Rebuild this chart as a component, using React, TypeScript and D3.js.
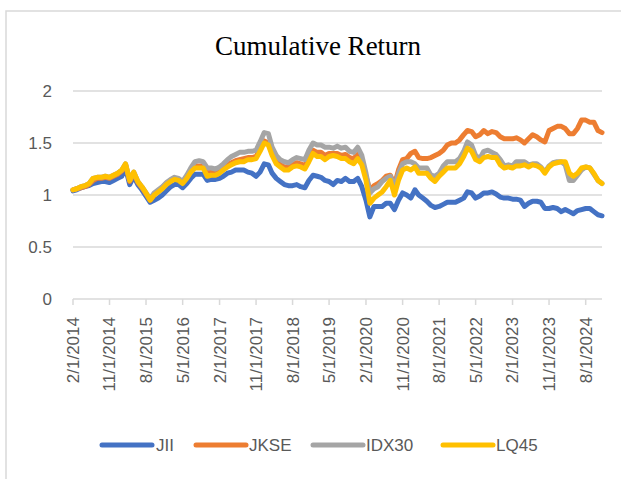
import React from "react";
import * as d3 from "d3";

// monthly observations, Feb 2014 .. Dec 2024
const months = d3.timeMonth.range(new Date(2014, 1, 1), new Date(2025, 0, 1));

const jii = [
  1.04, 1.05, 1.07, 1.08, 1.09, 1.11, 1.12, 1.13, 1.13, 1.12,
  1.14, 1.16, 1.18, 1.26, 1.10, 1.18, 1.10, 1.05, 0.99, 0.93,
  0.95, 0.97, 1.00, 1.04, 1.08, 1.10, 1.10, 1.07, 1.11, 1.16,
  1.20, 1.20, 1.20, 1.14, 1.15, 1.15, 1.16, 1.18, 1.21, 1.22,
  1.24, 1.24, 1.24, 1.22, 1.21, 1.18, 1.22, 1.30, 1.29, 1.21,
  1.16, 1.13, 1.10, 1.09, 1.09, 1.10, 1.08, 1.07, 1.14, 1.19,
  1.18, 1.17, 1.14, 1.13, 1.10, 1.14, 1.13, 1.16, 1.13, 1.13,
  1.16, 1.08, 0.95, 0.79, 0.89, 0.89, 0.89, 0.92, 0.92, 0.86,
  0.95, 1.02, 1.00, 0.97, 1.05, 1.00, 0.97, 0.94, 0.90, 0.88,
  0.89, 0.91, 0.93, 0.93, 0.93, 0.95, 0.97, 1.03, 1.02, 0.97,
  0.99, 1.02, 1.02, 1.03, 1.01, 0.98, 0.97, 0.97, 0.96, 0.96,
  0.95, 0.89, 0.92, 0.94, 0.94, 0.93, 0.87, 0.87, 0.88, 0.87,
  0.84, 0.86, 0.84, 0.82, 0.85, 0.86, 0.87, 0.87, 0.84, 0.81,
  0.80,
];

const jkse = [
  1.05, 1.06, 1.07, 1.08, 1.10, 1.14, 1.16, 1.16, 1.17, 1.16,
  1.18, 1.20, 1.23, 1.29, 1.13, 1.21, 1.12, 1.07, 1.01, 0.95,
  1.00, 1.04, 1.07, 1.11, 1.14, 1.16, 1.15, 1.12, 1.17, 1.23,
  1.28, 1.28, 1.28, 1.21, 1.22, 1.22, 1.23, 1.26, 1.29, 1.31,
  1.33, 1.34, 1.35, 1.36, 1.36, 1.37, 1.44, 1.52, 1.50, 1.40,
  1.33, 1.29, 1.27, 1.27, 1.29, 1.31, 1.30, 1.28, 1.36, 1.43,
  1.41, 1.41, 1.38, 1.40, 1.40, 1.40, 1.38, 1.39, 1.36, 1.35,
  1.39, 1.33, 1.18, 1.05, 1.09, 1.11, 1.14, 1.18, 1.19, 1.10,
  1.24, 1.34, 1.35, 1.40, 1.42, 1.36, 1.35, 1.35, 1.36, 1.38,
  1.40, 1.43, 1.48, 1.50, 1.50, 1.53, 1.58, 1.62, 1.61, 1.56,
  1.58, 1.62, 1.59, 1.61, 1.60, 1.56, 1.54, 1.54, 1.54, 1.55,
  1.53, 1.50, 1.54, 1.58, 1.56, 1.53, 1.51, 1.62, 1.64, 1.66,
  1.66, 1.64, 1.59, 1.59, 1.64, 1.72, 1.72, 1.70, 1.70, 1.62,
  1.60,
];

const idx30 = [
  1.05, 1.06, 1.08, 1.09, 1.11, 1.16, 1.17, 1.17, 1.18, 1.17,
  1.19, 1.21, 1.24, 1.30, 1.14, 1.22, 1.13, 1.08, 1.02, 0.96,
  1.02, 1.05, 1.08, 1.12, 1.15, 1.17, 1.16, 1.13, 1.19, 1.26,
  1.32, 1.33, 1.32, 1.26, 1.26, 1.25, 1.27, 1.30, 1.34, 1.37,
  1.39, 1.41, 1.41, 1.42, 1.42, 1.43, 1.51, 1.60, 1.59, 1.46,
  1.38, 1.34, 1.32, 1.31, 1.34, 1.36, 1.35, 1.34, 1.43, 1.50,
  1.48, 1.48, 1.46, 1.46, 1.45, 1.47, 1.45, 1.46, 1.42, 1.41,
  1.46, 1.38, 1.21, 1.02, 1.06, 1.08, 1.13, 1.16, 1.18, 1.08,
  1.21, 1.30, 1.32, 1.32, 1.30, 1.26, 1.26, 1.26, 1.19, 1.18,
  1.21, 1.28, 1.32, 1.32, 1.32, 1.35, 1.42, 1.51, 1.48, 1.38,
  1.35, 1.42, 1.43, 1.41, 1.39, 1.34, 1.28, 1.29, 1.28, 1.32,
  1.32, 1.32, 1.29, 1.30, 1.30, 1.27, 1.22, 1.28, 1.31, 1.32,
  1.32, 1.29, 1.14, 1.14, 1.19, 1.24, 1.27, 1.26, 1.20, 1.14,
  1.11,
];

const lq45 = [
  1.05, 1.06, 1.08, 1.09, 1.11, 1.16, 1.17, 1.17, 1.18, 1.17,
  1.19, 1.21, 1.24, 1.30, 1.14, 1.22, 1.13, 1.08, 1.02, 0.95,
  1.00, 1.03, 1.06, 1.10, 1.13, 1.15, 1.14, 1.11, 1.16, 1.22,
  1.26, 1.26, 1.26, 1.18, 1.19, 1.19, 1.21, 1.24, 1.27, 1.29,
  1.31, 1.32, 1.32, 1.34, 1.34, 1.35, 1.42, 1.50, 1.48, 1.38,
  1.30, 1.27, 1.24, 1.24, 1.27, 1.28, 1.27, 1.25, 1.32, 1.40,
  1.37, 1.37, 1.34, 1.37, 1.38, 1.37, 1.35, 1.35, 1.32, 1.30,
  1.35, 1.29, 1.14, 0.92, 0.97, 1.00, 1.03, 1.08, 1.14, 1.00,
  1.14, 1.24, 1.26, 1.24, 1.27, 1.21, 1.21, 1.21, 1.16, 1.13,
  1.18, 1.22, 1.26, 1.26, 1.26, 1.30, 1.37, 1.45, 1.42, 1.34,
  1.32, 1.36, 1.37, 1.36, 1.36, 1.29, 1.26, 1.27, 1.26, 1.28,
  1.28, 1.29, 1.27, 1.29, 1.28, 1.26, 1.21, 1.27, 1.30, 1.31,
  1.32, 1.32, 1.21, 1.18, 1.21, 1.26, 1.27, 1.26, 1.21, 1.14,
  1.11,
];

const tickLabels = [
  "2/1/2014", "11/1/2014", "8/1/2015", "5/1/2016", "2/1/2017",
  "11/1/2017", "8/1/2018", "5/1/2019", "2/1/2020", "11/1/2020",
  "8/1/2021", "5/1/2022", "2/1/2023", "11/1/2023", "8/1/2024",
];
const yTicks = [0, 0.5, 1, 1.5, 2];

const series = [
  { name: "JII", values: jii, color: "#4472C4" },
  { name: "JKSE", values: jkse, color: "#ED7D31" },
  { name: "IDX30", values: idx30, color: "#A5A5A5" },
  { name: "LQ45", values: lq45, color: "#FFC000" },
];

const W = 621;
const H = 479;
const margin = { left: 73, right: 19, top: 91, bottom: 180 };
const font = "'Liberation Sans', Arial, sans-serif";

export default function App() {
  const parse = d3.timeParse("%m/%d/%Y");
  const tickDates = tickLabels.map((t) => parse(t) as Date);

  const x = d3
    .scaleTime()
    .domain([months[0], months[months.length - 1]])
    .range([margin.left, W - margin.right]);
  const y = d3
    .scaleLinear()
    .domain([0, 2])
    .range([H - margin.bottom, margin.top]);

  const line = d3
    .line<number>()
    .x((_, i) => x(months[i]))
    .y((d) => y(d));

  const legendItems = [
    { x: 102, textX: 156 },
    { x: 196, textX: 249 },
    { x: 313, textX: 366 },
    { x: 443, textX: 496 },
  ];

  return (
    <svg width={W} height={H} style={{ position: "absolute", left: 0, top: 0 }}>
      <rect x={0} y={0} width={W} height={H} fill="#fff" />
      <rect x={6} y={11} width={W + 20} height={H + 20} fill="none" stroke="#d9d9d9" strokeWidth={1.5} />
      <text x={318} y={55} textAnchor="middle" fontFamily="'Liberation Serif', 'Times New Roman', serif" fontSize={27} fill="#000">
        Cumulative Return
      </text>

      {yTicks.map((t) => (
        <g key={t}>
          {t > 0 && (
            <line x1={margin.left} x2={W - margin.right} y1={y(t)} y2={y(t)} stroke="#d9d9d9" strokeWidth={1.5} />
          )}
          <text x={52} y={y(t)} dy="0.35em" textAnchor="end" fontFamily={font} fontSize={17} fill="#595959">
            {t}
          </text>
        </g>
      ))}

      <line x1={margin.left} x2={W - margin.right} y1={y(0)} y2={y(0)} stroke="#d9d9d9" strokeWidth={1.5} />
      {tickDates.map((d, i) => (
        <g key={i} transform={`translate(${x(d)},${y(0)})`}>
          <line y1={0} y2={6} stroke="#d9d9d9" strokeWidth={1.5} />
          <text transform="rotate(-90)" x={-18} y={0} dy="0.35em" textAnchor="end" fontFamily={font} fontSize={17} fill="#595959">
            {tickLabels[i]}
          </text>
        </g>
      ))}

      {series.map((s) => (
        <path
          key={s.name}
          d={line(s.values) || ""}
          fill="none"
          stroke={s.color}
          strokeWidth={5}
          strokeLinejoin="round"
          strokeLinecap="round"
        />
      ))}

      {series.map((s, i) => (
        <g key={s.name}>
          <line x1={legendItems[i].x} x2={legendItems[i].x + 50} y1={445} y2={445} stroke={s.color} strokeWidth={5} strokeLinecap="round" />
          <text x={legendItems[i].textX} y={445} dy="0.35em" fontFamily={font} fontSize={17} fill="#595959">
            {s.name}
          </text>
        </g>
      ))}
    </svg>
  );
}
